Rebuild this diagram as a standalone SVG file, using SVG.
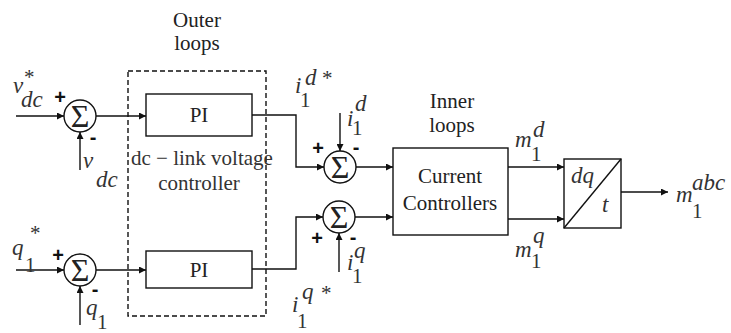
<svg xmlns="http://www.w3.org/2000/svg" width="731" height="333" viewBox="0 0 731 333">
<defs>
<marker id="arr" viewBox="0 0 10 10" refX="10" refY="5" markerWidth="10" markerHeight="7" markerUnits="userSpaceOnUse" orient="auto">
<path d="M0,0 L10,5 L0,10 z" fill="#111"/>
</marker>
<style>
.ln{fill:none;stroke:#111;stroke-width:1.4}
.ar{fill:none;stroke:#111;stroke-width:1.4;marker-end:url(#arr)}
.box{fill:#fff;stroke:#111;stroke-width:1.4}
.sum{fill:#fff;stroke:#111;stroke-width:1.4}
.t{font-family:"Liberation Serif","Times New Roman",serif;fill:#222;font-size:21px}
.v{font-family:"Liberation Serif","Times New Roman",serif;fill:#333;font-size:23px;font-style:italic}
.n{font-family:"Liberation Serif","Times New Roman",serif;fill:#333;font-size:21px}
.sg{font-family:"Liberation Serif","Times New Roman",serif;fill:#222;font-size:32px;text-anchor:middle}
.pm{font-family:"Liberation Sans",Arial,sans-serif;fill:#111;font-size:20px;font-weight:bold;text-anchor:middle}
.c{text-anchor:middle}
</style>
</defs>

<g id="outer-box">
<rect x="128" y="71" width="138" height="245" fill="none" stroke="#111" stroke-width="1.4" stroke-dasharray="5,3"/>
<text class="t c" x="197" y="27">Outer</text>
<text class="t c" x="197" y="50">loops</text>
<text class="n" x="131" y="165" font-size="19.5">dc − link voltage</text>
<text class="n c" x="199" y="190" font-size="20">controller</text>
</g>

<g id="connectors">
<line class="ar" x1="16" y1="116" x2="64" y2="116"/>
<line class="ar" x1="80" y1="170" x2="80" y2="132"/>
<line class="ar" x1="96" y1="116" x2="146" y2="116"/>
<line class="ar" x1="16" y1="270" x2="64" y2="270"/>
<line class="ar" x1="80" y1="325" x2="80" y2="286"/>
<line class="ar" x1="96" y1="270" x2="146" y2="270"/>
<polyline class="ar" points="252,115 296,115 296,167 324,167"/>
<line class="ar" x1="340" y1="113" x2="340" y2="151"/>
<polyline class="ar" points="252,269 296,269 296,217 323,217"/>
<line class="ar" x1="339" y1="272" x2="339" y2="233"/>
<line class="ar" x1="356" y1="167" x2="393" y2="167"/>
<line class="ar" x1="355" y1="217" x2="393" y2="217"/>
<line class="ar" x1="508" y1="167" x2="564" y2="167"/>
<line class="ar" x1="508" y1="219" x2="564" y2="219"/>
<line class="ar" x1="621" y1="192" x2="668" y2="192"/>
</g>

<g id="sum1">
<circle class="sum" cx="80" cy="116" r="16"/>
<text class="sg" x="80" y="127">Σ</text>
<text class="pm" x="60" y="104">+</text>
<text class="pm" x="93" y="144">-</text>
</g>
<g id="sum2">
<circle class="sum" cx="80" cy="270" r="16"/>
<text class="sg" x="80" y="281">Σ</text>
<text class="pm" x="58" y="262">+</text>
<text class="pm" x="95" y="296">-</text>
</g>
<g id="sum3">
<circle class="sum" cx="340" cy="167" r="16"/>
<text class="sg" x="340" y="178">Σ</text>
<text class="pm" x="318" y="155">+</text>
<text class="pm" x="356" y="154">-</text>
</g>
<g id="sum4">
<circle class="sum" cx="339" cy="217" r="16"/>
<text class="sg" x="339" y="228">Σ</text>
<text class="pm" x="317" y="245">+</text>
<text class="pm" x="353" y="244">-</text>
</g>

<g id="pi1">
<rect class="box" x="146" y="94" width="106" height="42"/>
<text class="t c" x="199" y="122">PI</text>
</g>
<g id="pi2">
<rect class="box" x="146" y="251" width="106" height="37"/>
<text class="t c" x="199" y="277">PI</text>
</g>

<g id="current-controllers">
<rect class="box" x="393" y="148" width="115" height="87"/>
<text class="t c" x="450" y="183">Current</text>
<text class="t c" x="450" y="210">Controllers</text>
<text class="t c" x="452" y="108">Inner</text>
<text class="t c" x="452" y="132">loops</text>
</g>

<g id="dq-t">
<rect class="box" x="564" y="159" width="57" height="69"/>
<line class="ln" x1="564" y1="228" x2="621" y2="159"/>
<text class="v" x="571" y="183" font-size="21">dq</text>
<text class="v" x="602" y="212" font-size="21">t</text>
</g>

<g id="labels">
<text class="v" x="13" y="93">v</text>
<text class="n" x="24" y="84">*</text>
<text class="v" x="21" y="107" font-size="21">dc</text>
<text class="v" x="83" y="168">v</text>
<text class="v" x="96" y="187" font-size="21">dc</text>
<text class="v" x="12" y="255">q</text>
<text class="n" x="25" y="272">1</text>
<text class="n" x="30" y="240">*</text>
<text class="v" x="86" y="315">q</text>
<text class="n" x="97" y="329" font-size="20">1</text>
<text class="v" x="295" y="93">i</text>
<text class="n" x="300" y="107">1</text>
<text class="v" x="305" y="85">d</text>
<text class="n" x="322" y="85">*</text>
<text class="v" x="347" y="126">i</text>
<text class="n" x="352" y="135">1</text>
<text class="v" x="355" y="111">d</text>
<text class="v" x="347" y="270">i</text>
<text class="n" x="352" y="283">1</text>
<text class="v" x="354" y="258">q</text>
<text class="v" x="292" y="312">i</text>
<text class="n" x="297" y="328">1</text>
<text class="v" x="302" y="299">q</text>
<text class="n" x="321" y="300">*</text>
<text class="v" x="515" y="147">m</text>
<text class="n" x="531" y="161">1</text>
<text class="v" x="533" y="137">d</text>
<text class="v" x="515" y="257">m</text>
<text class="n" x="531" y="268">1</text>
<text class="v" x="533" y="243">q</text>
<text class="v" x="676" y="202">m</text>
<text class="n" x="692" y="218">1</text>
<text class="v" x="692" y="190">abc</text>
</g>
</svg>
